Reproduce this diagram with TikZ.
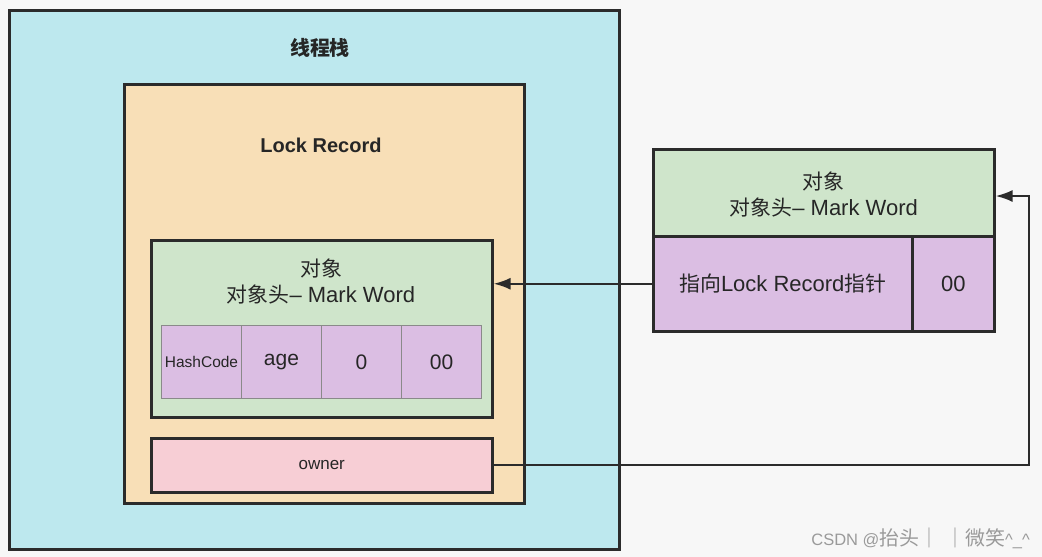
\documentclass[tikz,border=0pt]{standalone}
\usepackage{fontspec}
\setmainfont{Liberation Sans}
\newfontfamily\cjk[Scale=0.95]{Noto Sans CJK SC}
\usetikzlibrary{arrows.meta}
\definecolor{bgc}{HTML}{F7F7F7}
\definecolor{cyanc}{HTML}{BDE8EE}
\definecolor{orangec}{HTML}{F8DFB7}
\definecolor{greenc}{HTML}{CFE5CB}
\definecolor{purplec}{HTML}{DBBEE3}
\definecolor{pinkc}{HTML}{F7CED5}
\definecolor{edgec}{HTML}{2B2B2B}
\definecolor{cellc}{HTML}{8A8A8A}
\definecolor{txtc}{HTML}{262626}
\definecolor{wmc}{HTML}{9A9A9A}
\tikzset{
  box/.style={draw=edgec, line width=2.5pt, anchor=north west, inner sep=0pt},
  cell/.style={draw=cellc, line width=1pt, fill=purplec, anchor=north west, inner sep=0pt,
    minimum width=80pt, minimum height=73pt, text=txtc, font=\fontsize{21}{24}\selectfont},
  lbl/.style={text=txtc, align=center, inner sep=0pt, font=\fontsize{22}{26}\selectfont},
  arr/.style={draw=edgec, line width=2.4pt, -{Latex[length=17pt,width=12pt]}}
}
\begin{document}
\begin{tikzpicture}[x=1pt,y=-1pt]
\fill[bgc] (0,0) rectangle (1042,557);
\useasboundingbox (0,0) rectangle (1042,557);
% thread stack
\node[box, fill=cyanc, minimum width=610pt, minimum height=539pt] (stack) at (8,9) {};
\node[lbl, font=\cjk\bfseries\fontsize{21}{24}\selectfont] (stacktitle) at (320,48) {线程栈};
% lock record
\node[box, fill=orangec, minimum width=400pt, minimum height=419pt] (lr) at (123,83) {};
\node[lbl, font=\bfseries\fontsize{20}{24}\selectfont] (lrtitle) at (321,145) {Lock Record};
% object copy in lock record
\node[box, fill=greenc, minimum width=341pt, minimum height=177pt] (obj) at (150,239) {};
\node[lbl] (objtxt) at (321,282) {{\cjk 对象}\\{\cjk 对象头}– Mark Word};
\node[cell, font=\fontsize{15.5}{18}\selectfont] (c1) at (161,325) {HashCode};
\node[cell] (c2) at (241,325) {age};
\node[cell] (c3) at (321,325) {0};
\node[cell] (c4) at (401,325) {00};
% owner
\node[box, fill=pinkc, minimum width=341pt, minimum height=54pt] (owner) at (150,437) {};
\node[lbl, font=\fontsize{17}{20}\selectfont] (ownertxt) at (owner.center) {owner};
% right object
\node[box, fill=greenc, minimum width=341pt, minimum height=87pt] (head) at (652,148) {};
\node[lbl] (headtxt) at ([yshift=-1.5pt]head.center) {{\cjk 对象}\\{\cjk 对象头}– Mark Word};
\node[box, fill=purplec, minimum width=259pt, minimum height=95pt] (ptr) at (652,235) {};
\node[lbl] (ptrtxt) at (ptr.center) {{\cjk 指向}Lock Record{\cjk 指针}};
\node[box, fill=purplec, minimum width=82pt, minimum height=95pt] (bits) at (911,235) {};
\node[lbl] (bitstxt) at (bits.center) {00};
% connectors
\coordinate (bend) at (1029,196);
\draw[arr] (ptr.west) -- (ptr.west -| obj.east);
\draw[arr] (owner.east) -| (bend) -- (bend -| head.east);
% watermark
\node[anchor=east, text=wmc, inner sep=0pt, font=\fontsize{16.5}{20}\selectfont] (wm) at (1030,538) {CSDN @{\cjk\fontsize{21}{22}\selectfont 抬头｜\hspace{6pt}｜微笑}\^{}\_\^{}};
\end{tikzpicture}
\end{document}
